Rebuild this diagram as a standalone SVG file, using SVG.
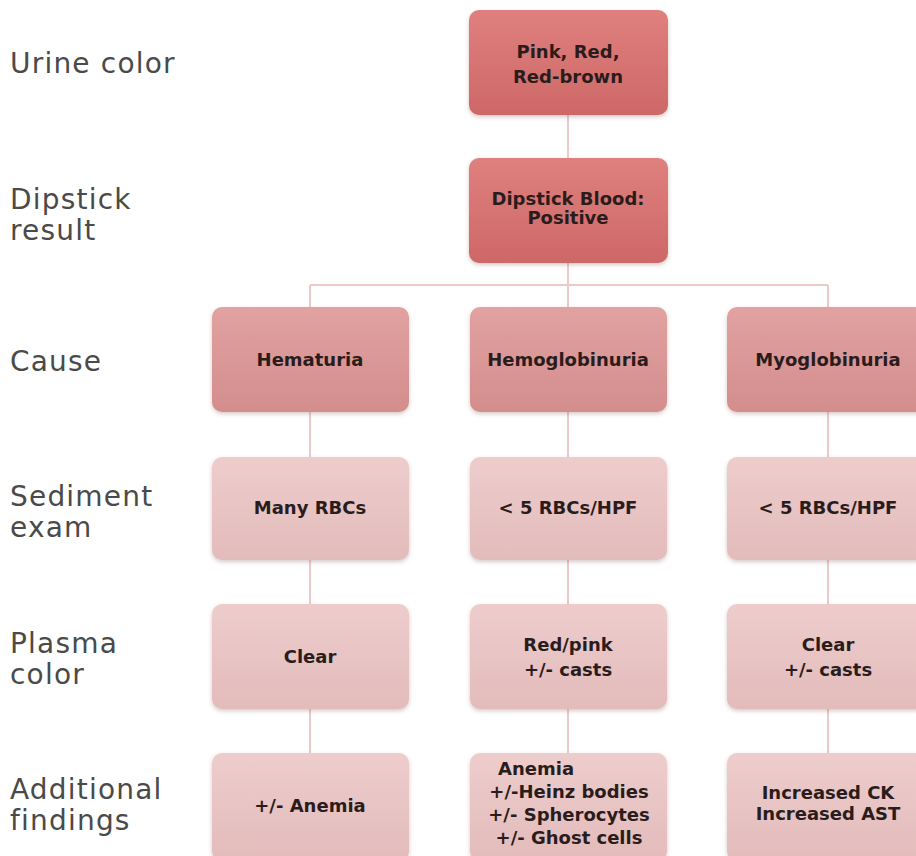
<svg xmlns="http://www.w3.org/2000/svg" width="916" height="856" viewBox="0 0 916 856">
<defs>
<linearGradient id="gTop" x1="0" y1="0" x2="0" y2="1"><stop offset="0" stop-color="#df807e"/><stop offset="1" stop-color="#cd6867"/></linearGradient>
<linearGradient id="gMid" x1="0" y1="0" x2="0" y2="1"><stop offset="0" stop-color="#e1a2a1"/><stop offset="1" stop-color="#d38d8d"/></linearGradient>
<linearGradient id="gLow" x1="0" y1="0" x2="0" y2="1"><stop offset="0" stop-color="#edcdcc"/><stop offset="1" stop-color="#e3bbbb"/></linearGradient>
<filter id="sh" x="-10%" y="-10%" width="120%" height="130%"><feDropShadow dx="0" dy="2" stdDeviation="2" flood-color="#7a4a4a" flood-opacity="0.3"/></filter>
</defs>
<style>
.lbl{font-family:"DejaVu Sans",sans-serif;font-size:28px;fill:#4a4a4a;letter-spacing:1.2px}
.t{font-family:"DejaVu Sans",sans-serif;font-weight:bold;font-size:18px;fill:#2b1c1c;text-anchor:middle}
.top{fill:url(#gTop);filter:url(#sh)}
.mid{fill:url(#gMid);filter:url(#sh)}
.low{fill:url(#gLow);filter:url(#sh)}
.c{stroke:#eccaca;stroke-width:2;fill:none}
</style>
<rect width="916" height="856" fill="#ffffff"/>
<g id="labels">
<text class="lbl" x="10" y="73">Urine color</text>
<text class="lbl" x="10" y="209">Dipstick</text>
<text class="lbl" x="10" y="240">result</text>
<text class="lbl" x="10" y="371">Cause</text>
<text class="lbl" x="10" y="506">Sediment</text>
<text class="lbl" x="10" y="537">exam</text>
<text class="lbl" x="10" y="653">Plasma</text>
<text class="lbl" x="10" y="684">color</text>
<text class="lbl" x="10" y="799">Additional</text>
<text class="lbl" x="10" y="830">findings</text>
</g>
<g id="connectors">
<path class="c" d="M568 115V158M568 263V285M310 285H828M310 285V307M568 285V307M828 285V307"/>
<path class="c" d="M310 412V457M310 560V604M310 709V753"/>
<path class="c" d="M568 412V457M568 560V604M568 709V753"/>
<path class="c" d="M828 412V457M828 560V604M828 709V753"/>
</g>
<g id="n-urine"><rect class="top" x="469" y="10" width="199" height="105" rx="10"/>
<text class="t" x="568" y="58">Pink, Red,</text><text class="t" x="568" y="83">Red-brown</text></g>
<g id="n-dipstick"><rect class="top" x="469" y="158" width="199" height="105" rx="10"/>
<text class="t" x="568" y="205">Dipstick Blood:</text><text class="t" x="568" y="224">Positive</text></g>
<g id="n-hematuria"><rect class="mid" x="212" y="307" width="197" height="105" rx="10"/>
<text class="t" x="310" y="366">Hematuria</text></g>
<g id="n-hemoglobinuria"><rect class="mid" x="470" y="307" width="197" height="105" rx="10"/>
<text class="t" x="568" y="366">Hemoglobinuria</text></g>
<g id="n-myoglobinuria"><rect class="mid" x="727" y="307" width="200" height="105" rx="10"/>
<text class="t" x="828" y="366">Myoglobinuria</text></g>
<g id="n-sed1"><rect class="low" x="212" y="457" width="197" height="103" rx="10"/>
<text class="t" x="310" y="514">Many RBCs</text></g>
<g id="n-sed2"><rect class="low" x="470" y="457" width="197" height="103" rx="10"/>
<text class="t" x="568" y="514">&lt; 5 RBCs/HPF</text></g>
<g id="n-sed3"><rect class="low" x="727" y="457" width="200" height="103" rx="10"/>
<text class="t" x="828" y="514">&lt; 5 RBCs/HPF</text></g>
<g id="n-pl1"><rect class="low" x="212" y="604" width="197" height="105" rx="10"/>
<text class="t" x="310" y="663">Clear</text></g>
<g id="n-pl2"><rect class="low" x="470" y="604" width="197" height="105" rx="10"/>
<text class="t" x="568" y="651">Red/pink</text><text class="t" x="568" y="676">+/- casts</text></g>
<g id="n-pl3"><rect class="low" x="727" y="604" width="200" height="105" rx="10"/>
<text class="t" x="828" y="651">Clear</text><text class="t" x="828" y="676">+/- casts</text></g>
<g id="n-add1"><rect class="low" x="212" y="753" width="197" height="108" rx="10"/>
<text class="t" x="310" y="812">+/- Anemia</text></g>
<g id="n-add2"><rect class="low" x="470" y="753" width="197" height="108" rx="10"/>
<text class="t" x="498" y="775" style="text-anchor:start">Anemia</text>
<text class="t" x="569" y="798">+/-Heinz bodies</text>
<text class="t" x="569" y="821">+/- Spherocytes</text>
<text class="t" x="569" y="844">+/- Ghost cells</text></g>
<g id="n-add3"><rect class="low" x="727" y="753" width="200" height="108" rx="10"/>
<text class="t" x="828" y="799">Increased CK</text><text class="t" x="828" y="820">Increased AST</text></g>
</svg>
